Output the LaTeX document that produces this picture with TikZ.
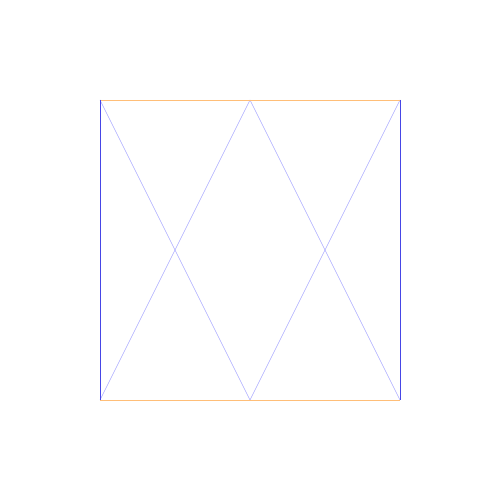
\documentclass[tikz,border=0pt]{standalone}
\begin{document}
\begin{tikzpicture}[
  edgeH/.style={draw={rgb,255:red,255;green,190;blue,120}, line width=0.5pt},
  edgeV/.style={draw={rgb,255:red,70;green,70;blue,230}, line width=0.5pt},
  diag/.style={draw={rgb,255:red,170;green,170;blue,255}, line width=0.3pt}
]
\useasboundingbox (0,0) rectangle (10,10);
\coordinate (TL) at (2,8);
\coordinate (TM) at (5,8);
\coordinate (TR) at (8,8);
\coordinate (BL) at (2,2);
\coordinate (BM) at (5,2);
\coordinate (BR) at (8,2);
\draw[diag] (TL) -- (BM);
\draw[diag] (TM) -- (BL);
\draw[diag] (TM) -- (BR);
\draw[diag] (TR) -- (BM);
\draw[edgeH] (TL) -- (TR);
\draw[edgeH] (BL) -- (BR);
\draw[edgeV] (TL) -- (BL);
\draw[edgeV] (TR) -- (BR);
\end{tikzpicture}
\end{document}
